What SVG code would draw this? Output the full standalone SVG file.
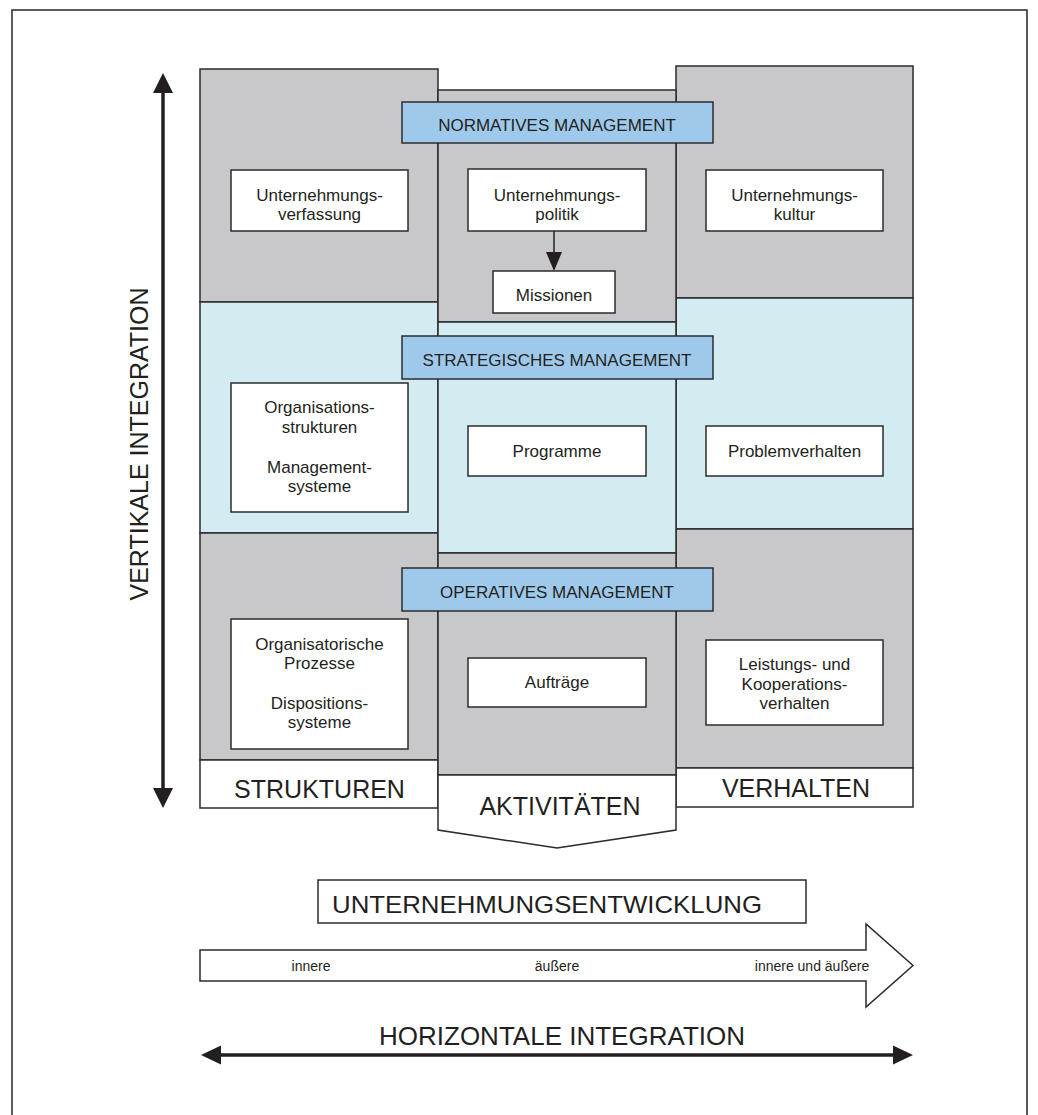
<svg xmlns="http://www.w3.org/2000/svg" width="1038" height="1115" viewBox="0 0 1038 1115">
  <style>
    .frame { fill: none; stroke: #333; stroke-width: 1.6; }
    .gray { fill: #c8c8ca; stroke: #2b2b2b; stroke-width: 1.5; }
    .cyan { fill: #d3ecf1; stroke: #2b2b2b; stroke-width: 1.5; }
    .head { fill: #9ec9eb; stroke: #2b2b2b; stroke-width: 1.5; }
    .box { fill: #ffffff; stroke: #2b2b2b; stroke-width: 1.5; }
    text { font-family: "Liberation Sans", Arial, Helvetica, sans-serif; fill: #231f20; text-anchor: middle; }
    .t17 { font-size: 17px; }
    .t14 { font-size: 14px; }
    .big { font-size: 25px; }
    .conn { stroke: #231f20; fill: none; }
  </style>
  <defs>
    <marker id="tri" viewBox="0 0 20 20" refX="0" refY="10" markerWidth="20" markerHeight="20" markerUnits="userSpaceOnUse" orient="auto-start-reverse">
      <path d="M0,0 L20,10 L0,20 z" fill="#231f20"/>
    </marker>
    <marker id="triH" viewBox="0 0 20 20" refX="0" refY="10" markerWidth="20" markerHeight="20" markerUnits="userSpaceOnUse" orient="auto-start-reverse">
      <path d="M0,0.5 L20,10 L0,19.5 z" fill="#231f20"/>
    </marker>
    <marker id="triS" viewBox="0 0 19 16" refX="0" refY="8" markerWidth="19" markerHeight="16" markerUnits="userSpaceOnUse" orient="auto">
      <path d="M0,0 L19,8 L0,16 z" fill="#231f20"/>
    </marker>
  </defs>

  <rect class="frame" x="12" y="10" width="1015" height="1130"/>

  <!-- left column: structures -->
  <g id="col-strukturen">
    <rect class="gray" x="200" y="69" width="238" height="233"/>
    <rect class="cyan" x="200" y="302" width="238" height="231"/>
    <rect class="gray" x="200" y="533" width="238" height="227"/>
    <rect class="box" x="200" y="760" width="238" height="48"/>
    <text class="big" x="319.5" y="798">STRUKTUREN</text>
  </g>

  <!-- right column: behaviour -->
  <g id="col-verhalten">
    <rect class="gray" x="676" y="66" width="237" height="232"/>
    <rect class="cyan" x="676" y="298" width="237" height="231"/>
    <rect class="gray" x="676" y="529" width="237" height="239"/>
    <rect class="box" x="676" y="768" width="237" height="39"/>
    <text class="big" x="796" y="797">VERHALTEN</text>
  </g>

  <!-- middle column: activities -->
  <g id="col-aktivitaeten">
    <rect class="gray" x="438" y="90" width="238" height="232"/>
    <rect class="cyan" x="438" y="322" width="238" height="231"/>
    <rect class="gray" x="438" y="553" width="238" height="222"/>
    <polygon class="box" points="438,775 676,775 676,830 557,848 438,830"/>
    <text class="big" x="560" y="815">AKTIVITÄTEN</text>
  </g>

  <!-- management levels -->
  <g id="normatives-management">
    <rect class="head" x="402" y="102" width="311" height="41"/>
    <text class="t17" x="557" y="130.5">NORMATIVES MANAGEMENT</text>
  </g>
  <g id="strategisches-management">
    <rect class="head" x="402" y="336" width="311" height="43"/>
    <text class="t17" x="557" y="366">STRATEGISCHES MANAGEMENT</text>
  </g>
  <g id="operatives-management">
    <rect class="head" x="402" y="568" width="311" height="43"/>
    <text class="t17" x="557" y="597.5">OPERATIVES MANAGEMENT</text>
  </g>

  <!-- normative level -->
  <g id="unternehmungsverfassung">
    <rect class="box" x="231" y="170" width="177" height="61"/>
    <text class="t17"><tspan x="319.5" y="200.5">Unternehmungs-</tspan><tspan x="319.5" y="219.5">verfassung</tspan></text>
  </g>
  <g id="unternehmungspolitik">
    <rect class="box" x="468" y="169" width="178" height="62"/>
    <text class="t17"><tspan x="557" y="200.5">Unternehmungs-</tspan><tspan x="557" y="219.5">politik</tspan></text>
  </g>
  <g id="missionen">
    <rect class="box" x="493" y="271" width="122" height="42"/>
    <text class="t17" x="554" y="300.5">Missionen</text>
  </g>
  <g id="unternehmungskultur">
    <rect class="box" x="706" y="170" width="177" height="61"/>
    <text class="t17"><tspan x="794.5" y="200.5">Unternehmungs-</tspan><tspan x="794.5" y="219.5">kultur</tspan></text>
  </g>

  <!-- strategic level -->
  <g id="organisationsstrukturen">
    <rect class="box" x="231" y="383" width="177" height="129"/>
    <text class="t17"><tspan x="319.5" y="413.3">Organisations-</tspan><tspan x="319.5" y="432.8">strukturen</tspan><tspan x="319.5" y="472.5">Management-</tspan><tspan x="319.5" y="491.5">systeme</tspan></text>
  </g>
  <g id="programme">
    <rect class="box" x="468" y="426" width="178" height="50"/>
    <text class="t17" x="557" y="456.5">Programme</text>
  </g>
  <g id="problemverhalten">
    <rect class="box" x="706" y="426" width="177" height="50"/>
    <text class="t17" x="794.5" y="456.5">Problemverhalten</text>
  </g>

  <!-- operative level -->
  <g id="organisatorische-prozesse">
    <rect class="box" x="231" y="619" width="177" height="130"/>
    <text class="t17"><tspan x="319.5" y="649.5">Organisatorische</tspan><tspan x="319.5" y="669">Prozesse</tspan><tspan x="319.5" y="708.5">Dispositions-</tspan><tspan x="319.5" y="727.5">systeme</tspan></text>
  </g>
  <g id="auftraege">
    <rect class="box" x="468" y="658" width="178" height="49"/>
    <text class="t17" x="557" y="687.5">Aufträge</text>
  </g>
  <g id="leistungsverhalten">
    <rect class="box" x="706" y="640" width="177" height="85"/>
    <text class="t17"><tspan x="794.5" y="670">Leistungs- und</tspan><tspan x="794.5" y="689.5">Kooperations-</tspan><tspan x="794.5" y="709">verhalten</tspan></text>
  </g>

  <!-- development -->
  <g id="unternehmungsentwicklung">
    <rect class="box" x="318" y="880" width="488" height="43"/>
    <text x="547" y="912.5" font-size="24" textLength="430" lengthAdjust="spacingAndGlyphs">UNTERNEHMUNGSENTWICKLUNG</text>
  </g>
  <g id="entwicklungspfeil">
    <polygon class="box" points="200,950 866,950 866,924 913,965.5 866,1007 866,981 200,981"/>
    <text class="t14" x="311" y="970.5">innere</text>
    <text class="t14" x="557" y="970.5">äußere</text>
    <text class="t14" x="812" y="970.5">innere und äußere</text>
  </g>

  <!-- axis labels -->
  <g id="vertikale-integration">
    <text class="big" transform="translate(148,444) rotate(-90)">VERTIKALE INTEGRATION</text>
  </g>
  <g id="horizontale-integration">
    <text x="562" y="1045" font-size="26" textLength="366" lengthAdjust="spacingAndGlyphs">HORIZONTALE INTEGRATION</text>
  </g>

  <!-- connectors -->
  <g id="connectors" class="conn">
    <line x1="163" y1="93" x2="163" y2="788" stroke-width="3.5" marker-start="url(#tri)" marker-end="url(#tri)"/>
    <line x1="221" y1="1055" x2="893" y2="1055" stroke-width="3.5" marker-start="url(#triH)" marker-end="url(#triH)"/>
    <line x1="554" y1="231" x2="554" y2="252" stroke-width="1.5" marker-end="url(#triS)"/>
  </g>
</svg>
